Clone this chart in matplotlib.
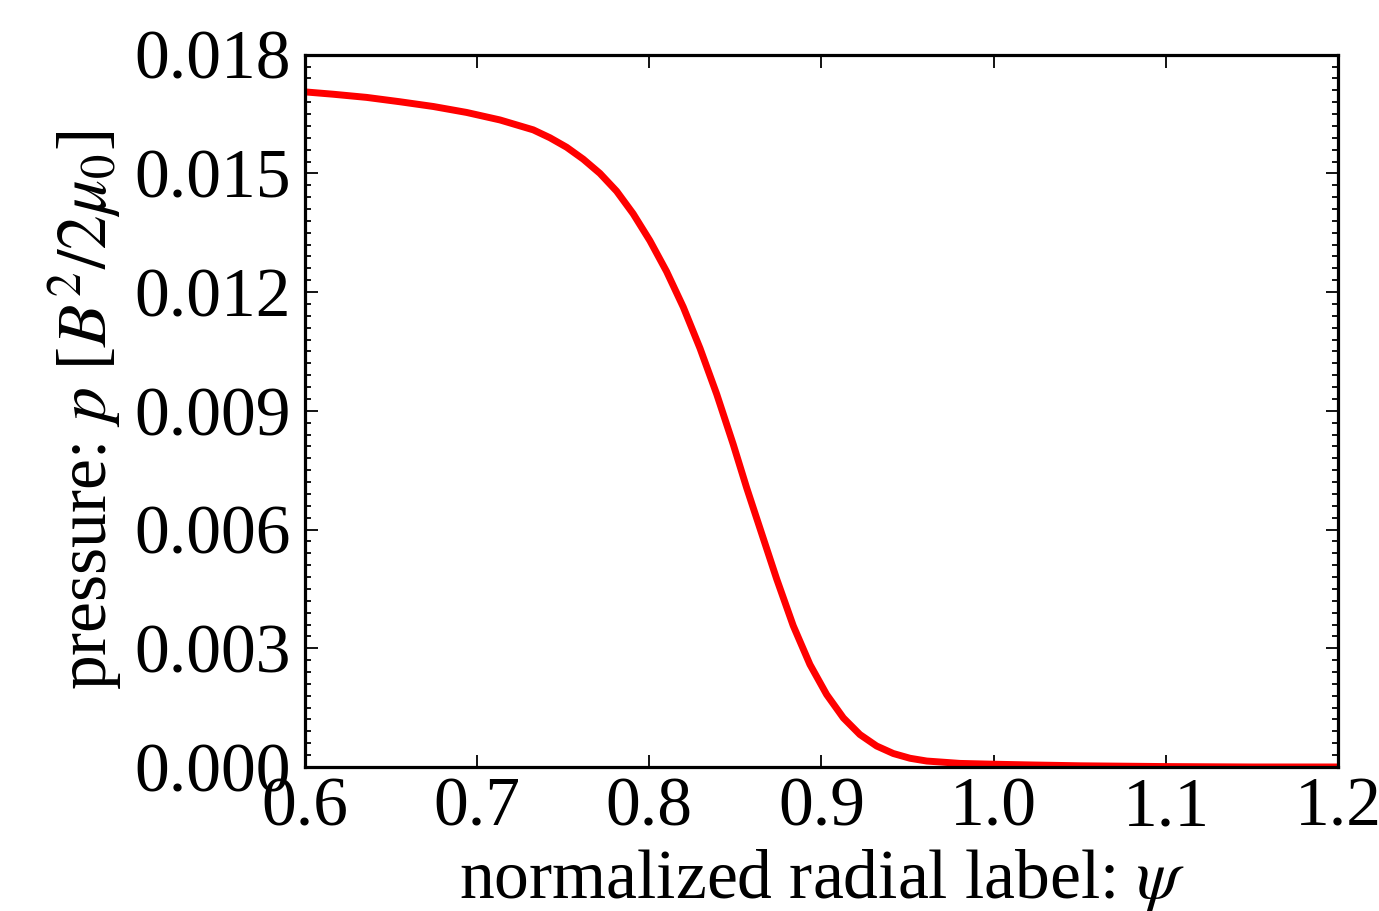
import numpy as np
from matplotlib import pyplot as plt
from matplotlib.ticker import MultipleLocator

# values
psi = [0.6000, 0.6166, 0.6360, 0.6553, 0.6747, 0.6940, 0.7134, 0.7327,
       0.7424, 0.7521, 0.7617, 0.7714, 0.7811, 0.7907, 0.8004, 0.8101,
       0.8198, 0.8295, 0.8392, 0.8488, 0.8566, 0.8662, 0.8740, 0.8836,
       0.8933, 0.9030, 0.9127, 0.9223, 0.9320, 0.9417, 0.9514, 0.9611,
       0.9804, 0.9996, 1.0228, 1.0500, 1.1000, 1.1500, 1.2000]
pressure = [0.01706, 0.01700, 0.01692, 0.01681, 0.01669, 0.01654, 0.01635,
            0.01610, 0.01590, 0.01566, 0.01536, 0.01500, 0.01455, 0.01398,
            0.01330, 0.01252, 0.01162, 0.01058, 0.00942, 0.00815, 0.00705,
            0.00578, 0.00475, 0.00357, 0.00259, 0.00183, 0.00124, 0.00082,
            0.00053, 0.00034, 0.00022, 0.00015, 0.00009, 0.00007, 0.00005,
            0.00003, 0.00001, 0.0, 0.0]

plt.rcParams['font.family'] = ['Liberation Serif', 'DejaVu Serif']
plt.rcParams['mathtext.fontset'] = 'stix'
fs = 50

fig = plt.figure(figsize=(13.79, 9.11), dpi=100)
ax = fig.add_axes([0.2209, 0.1581, 0.7496, 0.7819])

ax.plot(psi, pressure, c='r', linewidth=5, solid_joinstyle='round')

ax.set_xlim(0.6, 1.2)
ax.set_ylim(0.0, 0.018)
ax.xaxis.set_major_locator(MultipleLocator(0.1))
ax.yaxis.set_major_locator(MultipleLocator(0.003))
ax.yaxis.set_minor_locator(MultipleLocator(0.0003))
ax.xaxis.set_major_formatter(plt.FormatStrFormatter('%.1f'))
ax.yaxis.set_major_formatter(plt.FormatStrFormatter('%.3f'))

ax.tick_params(which='both', direction='in', top=True, right=True,
               labelsize=fs, width=1.3)
ax.tick_params(which='major', length=9)
ax.tick_params(which='minor', length=4.5)
ax.tick_params(axis='x', pad=7)
ax.tick_params(axis='y', pad=10)
# old-style baseline centring lifts the y labels a little
for t in ax.yaxis.get_major_ticks():
    t.label1.set_verticalalignment('center_baseline')
for s in ax.spines.values():
    s.set_linewidth(2.3)

ax.set_xlabel(r'normalized radial label: $\psi$', fontsize=fs, labelpad=5)
ax.set_ylabel(r'pressure: $p$ [$B^2/2\mu_0$]', fontsize=fs, labelpad=7)

fig.savefig('out.png', dpi=100)
